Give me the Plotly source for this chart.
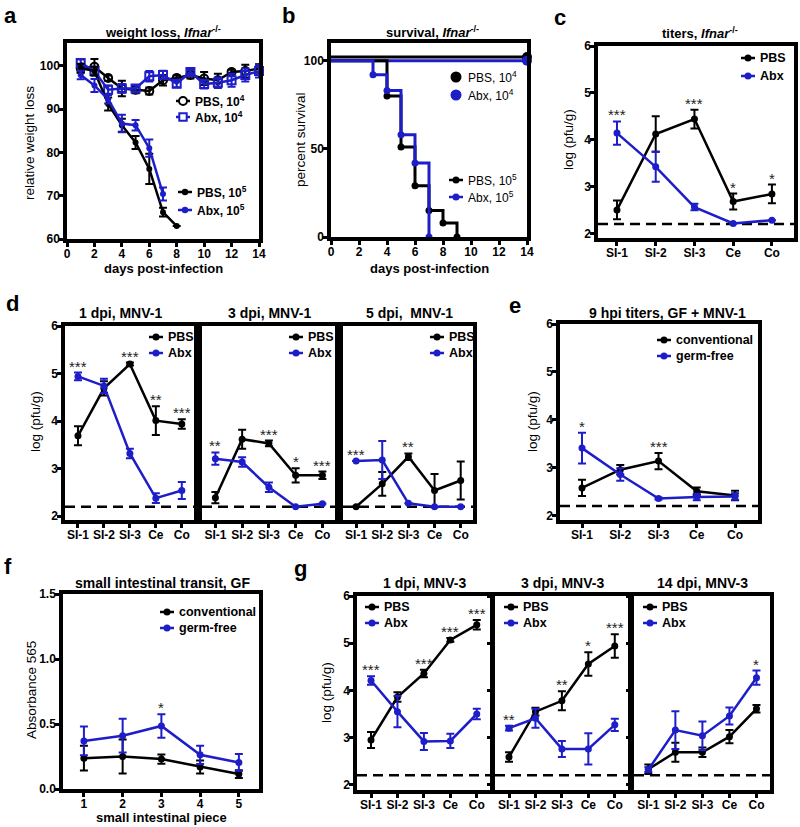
import plotly.graph_objects as go

# ---------------- data ----------------
# panel a: weight loss
a_days4 = [1, 2, 3, 4, 5, 6, 7, 8, 9, 10, 11, 12, 13, 14]
a_pbs4 = [99.4, 99.8, 97.2, 94.8, 94.5, 94.2, 96.7, 97.2, 97.9, 97.1, 96.7, 98.6, 98.8, 99.4]
a_pbs4_err = [1.0, 1.8, 0.6, 1.8, 0.8, 0.8, 1.2, 0.6, 0.8, 1.5, 1.5, 0.5, 1.5, 1.0]
a_abx4 = [100.7, 98.8, 94.5, 94.8, 94.8, 97.6, 97.9, 95.9, 98.6, 95.8, 96.1, 96.7, 97.9, 98.8]
a_abx4_err = [0.8, 1.0, 1.0, 1.0, 0.8, 1.2, 1.0, 0.8, 0.6, 1.0, 1.2, 1.5, 1.5, 1.5]
a_days_pbs5 = [1, 2, 3, 4, 5, 6, 7, 8]
a_pbs5 = [99.5, 98.8, 91.2, 86.3, 82.3, 76.2, 66.2, 63.0]
a_pbs5_err = [1.0, 1.0, 1.5, 1.5, 1.5, 3.5, 1.0, 0.0]
a_days_abx5 = [1, 2, 3, 4, 5, 6, 7]
a_abx5 = [97.9, 95.5, 92.3, 86.7, 86.3, 81.0, 70.4]
a_abx5_err = [1.0, 1.5, 1.0, 2.0, 1.2, 2.0, 1.5]

# panel b: survival
b_pbs4_t = [0, 14]
b_pbs4 = [102, 102]
b_abx4_t = [0, 14]
b_abx4 = [100, 100]
b_pbs5_t = [0, 4, 5, 6, 7, 8, 9]
b_pbs5 = [100, 80, 51, 29, 15, 8, 0]
b_abx5_t = [0, 3, 4, 5, 6, 7]
b_abx5 = [100, 92, 83, 58, 42, 0]

sites = ["SI-1", "SI-2", "SI-3", "Ce", "Co"]

# panel c: titers Ifnar-/-
c_pbs = [2.50, 4.12, 4.44, 2.68, 2.84]
c_pbs_err = [0.2, 0.38, 0.2, 0.17, 0.2]
c_abx = [4.14, 3.42, 2.56, 2.21, 2.28]
c_abx_err = [0.25, 0.32, 0.07, 0.0, 0.0]
c_stars = ["***", "", "***", "*", "*"]

# panel d: MNV-1
d1_pbs = [3.69, 4.69, 5.20, 4.01, 3.94]
d1_pbs_err = [0.2, 0.15, 0.03, 0.3, 0.1]
d1_abx = [4.94, 4.74, 3.32, 2.38, 2.54]
d1_abx_err = [0.08, 0.15, 0.1, 0.1, 0.18]
d1_stars = ["***", "", "***", "**", "***"]

d2_pbs = [2.39, 3.62, 3.53, 2.86, 2.86]
d2_pbs_err = [0.12, 0.2, 0.06, 0.15, 0.08]
d2_abx = [3.21, 3.14, 2.61, 2.20, 2.26]
d2_abx_err = [0.13, 0.1, 0.1, 0.0, 0.0]
d2_stars = ["**", "", "***", "*", "***"]

d3_pbs = [2.20, 2.68, 3.25, 2.54, 2.75]
d3_pbs_err = [0.0, 0.25, 0.07, 0.35, 0.4]
d3_abx = [3.16, 3.18, 2.27, 2.20, 2.20]
d3_abx_err = [0.0, 0.4, 0.0, 0.0, 0.0]
d3_stars = ["***", "", "**", "", ""]

# panel e: 9 hpi GF
e_conv = [2.58, 2.96, 3.14, 2.51, 2.42]
e_conv_err = [0.17, 0.1, 0.17, 0.08, 0.1]
e_gf = [3.41, 2.86, 2.36, 2.39, 2.40]
e_gf_err = [0.32, 0.13, 0.02, 0.07, 0.07]
e_stars = ["*", "", "***", "", ""]

# panel f: transit
f_piece = [1, 2, 3, 4, 5]
f_conv = [0.237, 0.25, 0.23, 0.17, 0.115]
f_conv_err = [0.095, 0.13, 0.035, 0.05, 0.03]
f_gf = [0.37, 0.41, 0.485, 0.263, 0.204]
f_gf_err = [0.11, 0.13, 0.09, 0.07, 0.065]
f_stars = ["", "", "*", "", ""]

# panel g: MNV-3
g1_pbs = [2.95, 3.86, 4.36, 5.07, 5.39]
g1_pbs_err = [0.17, 0.1, 0.08, 0.04, 0.1]
g1_abx = [4.21, 3.55, 2.92, 2.93, 3.50]
g1_abx_err = [0.09, 0.33, 0.18, 0.15, 0.11]
g1_stars = ["***", "", "***", "***", "***"]

g2_pbs = [2.59, 3.55, 3.78, 4.56, 4.94]
g2_pbs_err = [0.1, 0.08, 0.2, 0.25, 0.25]
g2_abx = [3.20, 3.41, 2.76, 2.76, 3.27]
g2_abx_err = [0.05, 0.2, 0.17, 0.33, 0.13]
g2_stars = ["**", "", "**", "*", "***"]

g3_pbs = [2.33, 2.69, 2.69, 3.02, 3.61]
g3_pbs_err = [0.1, 0.2, 0.1, 0.14, 0.08]
g3_abx = [2.32, 3.16, 3.04, 3.46, 4.27]
g3_abx_err = [0.05, 0.4, 0.3, 0.18, 0.15]
g3_stars = ["", "", "", "", "*"]

detection_limit = 2.2

# ---------------- styling / layout ----------------
W, H = 800, 827
BLACK = "#000000"
BLUE = "#1e1ec8"
STARC = "#222222"
FONT = "Liberation Sans"
TICKFONT = dict(family=FONT, size=12, color=BLACK, weight="bold")

# panel boxes in pixels: left, right, top, bottom
boxes = {
    1: (67, 259, 43, 239),
    2: (331, 527, 43, 237),
    3: (598, 794, 46, 238),
    4: (65, 194, 326, 520),
    5: (202, 335, 326, 520),
    6: (343, 473, 326, 520),
    7: (560, 758, 324, 520),
    8: (63, 259, 594, 789),
    9: (357, 490, 596, 790),
    10: (495, 628, 596, 790),
    11: (634, 770, 596, 790),
}

layout = dict(
    width=W, height=H, margin=dict(l=0, r=0, t=0, b=0),
    paper_bgcolor="white", plot_bgcolor="white", template="none",
    font=dict(family=FONT, color=BLACK), showlegend=False,
)


def axis_common():
    return dict(showline=True, mirror=True, linewidth=3.5, linecolor=BLACK,
                ticks="outside", ticklen=4, tickwidth=2.5, tickcolor=BLACK,
                ticklabelstandoff=-3,
                showgrid=False, zeroline=False, tickfont=TICKFONT, fixedrange=True)


def xname(k):
    return "xaxis" if k == 1 else f"xaxis{k}"


def yname(k):
    return "yaxis" if k == 1 else f"yaxis{k}"


for k, (l, r, t, b) in boxes.items():
    xa = axis_common()
    xa.update(domain=[l / W, r / W], anchor=f"y{k}" if k > 1 else "y")
    ya = axis_common()
    ya.update(domain=[1 - b / H, 1 - t / H], anchor=f"x{k}" if k > 1 else "x")
    layout[xname(k)] = xa
    layout[yname(k)] = ya

# axis ranges / ticks
layout["xaxis"].update(range=[0, 14], tickvals=list(range(0, 15, 2)))
layout["yaxis"].update(range=[60, 105.3], tickvals=[60, 70, 80, 90, 100])
layout["xaxis2"].update(range=[0, 14], tickvals=list(range(0, 15, 2)))
layout["yaxis2"].update(range=[0, 110], tickvals=[0, 50, 100])
layout["xaxis3"].update(type="category", range=[-0.49, 4.57])
layout["yaxis3"].update(range=[1.9, 6], tickvals=[2, 3, 4, 5, 6])
for k in (4, 5, 6):
    layout[xname(k)].update(type="category", range=[-0.5, 4.47])
    layout[yname(k)].update(range=[1.92, 6], tickvals=[2, 3, 4, 5, 6], showticklabels=(k == 4))
layout["xaxis7"].update(type="category", range=[-0.575, 4.6])
layout["yaxis7"].update(range=[1.91, 6], tickvals=[2, 3, 4, 5, 6])
layout["xaxis8"].update(range=[0.46, 5.52], tickvals=f_piece)
layout["yaxis8"].update(range=[0, 1.5], tickvals=[0, 0.5, 1.0, 1.5], ticktext=["0.0", "0.5", "1.0", "1.5"])
for k in (9, 10, 11):
    layout[xname(k)].update(type="category", range=[-0.53, 4.5])
    layout[yname(k)].update(range=[1.89, 6], tickvals=[2, 3, 4, 5, 6], showticklabels=(k == 9))

fig = go.Figure()
annotations = []
shapes = []


def legend_entry(text_x, cy, label, color, symbol="circle", r=3.5, line=True,
                 bold=True, fsize=12.5):
    """Manual GraphPad-style legend entry: short line, marker, text."""
    yc = 1 - cy / H
    mx = (text_x - 11) / W
    if line:
        shapes.append(dict(type="line", xref="paper", yref="paper",
                           x0=(text_x - 18) / W, x1=(text_x - 4) / W, y0=yc, y1=yc,
                           line=dict(color=color, width=2.5)))
    openm = symbol.endswith("-open")
    stype = "rect" if symbol.startswith("square") else "circle"
    shapes.append(dict(type=stype, xref="paper", yref="paper",
                       xsizemode="pixel", ysizemode="pixel", xanchor=mx, yanchor=yc,
                       x0=-r, x1=r, y0=-r, y1=r,
                       fillcolor="white" if openm else color,
                       line=dict(color=color, width=2 if openm else 0)))
    annotations.append(dict(x=text_x / W, y=yc, xref="paper", yref="paper",
                            text=f"<b>{label}</b>" if bold else label, showarrow=False,
                            xanchor="left", yanchor="middle", borderpad=0,
                            font=dict(family=FONT, size=fsize, color=BLACK)))


def axref(k):
    return ("x", "y") if k == 1 else (f"x{k}", f"y{k}")


def add_series(k, x, y, err, color, name, symbol="circle", size=7, lw=2.5, mline=0):
    xr, yr = axref(k)
    fig.add_trace(go.Scatter(
        x=x, y=y, mode="lines+markers", name=name,
        line=dict(color=color, width=lw),
        marker=dict(color=color, size=size, symbol=symbol, line=dict(color=color, width=mline)),
        error_y=dict(type="data", array=err, color=color, thickness=2, width=4, visible=True),
        xaxis=xr, yaxis=yr, cliponaxis=False))


def add_stars(k, x, stars, series):
    xr, yr = axref(k)
    for i, s in enumerate(stars):
        if not s:
            continue
        top = max(v[i] + e[i] for v, e in series)
        annotations.append(dict(x=x[i], y=top, xref=xr, yref=yr, text=s, showarrow=False,
                                yanchor="bottom", xanchor="center", yshift=-4,
                                font=dict(family=FONT, size=15, color=STARC)))


def add_limit(k):
    xr, yr = axref(k)
    shapes.append(dict(type="line", xref=f"{xr} domain", yref=yr, x0=0, x1=1,
                       y0=detection_limit, y1=detection_limit, layer="below",
                       line=dict(color=BLACK, width=2.5, dash="10px,6px")))


# ----- panel a -----
add_series(1, a_days4, a_pbs4, a_pbs4_err, BLACK, "PBS, 10<sup>4</sup>",
           symbol="circle-open", size=8, mline=2)
add_series(1, a_days4, a_abx4, a_abx4_err, BLUE, "Abx, 10<sup>4</sup>",
           symbol="square-open", size=8, mline=2)
add_series(1, a_days_pbs5, a_pbs5, a_pbs5_err, BLACK, "PBS, 10<sup>5</sup>", size=6)
add_series(1, a_days_abx5, a_abx5, a_abx5_err, BLUE, "Abx, 10<sup>5</sup>", size=6)
legend_entry(194, 101, "PBS, 10<sup>4</sup>", BLACK, symbol="circle-open", r=4, fsize=12)
legend_entry(194, 117, "Abx, 10<sup>4</sup>", BLUE, symbol="square-open", r=3.7, fsize=12)
legend_entry(196, 192, "PBS, 10<sup>5</sup>", BLACK, r=3.2, fsize=12)
legend_entry(196, 210, "Abx, 10<sup>5</sup>", BLUE, r=3.2, fsize=12)

# ----- panel b -----
for t, v, col, nm, cy, big in [
    (b_pbs4_t, b_pbs4, BLACK, "PBS, 10<sup>4</sup>", 77, True),
    (b_abx4_t, b_abx4, BLUE, "Abx, 10<sup>4</sup>", 95, True),
    (b_pbs5_t, b_pbs5, BLACK, "PBS, 10<sup>5</sup>", 180, False),
    (b_abx5_t, b_abx5, BLUE, "Abx, 10<sup>5</sup>", 197, False),
]:
    fig.add_trace(go.Scatter(x=t, y=v, mode="lines", line=dict(color=col, width=3, shape="hv"),
                             name=nm, xaxis="x2", yaxis="y2", cliponaxis=False))
    fig.add_trace(go.Scatter(x=t[1:], y=v[1:], mode="markers",
                             marker=dict(color=col, size=10 if big else 7),
                             name=nm, xaxis="x2", yaxis="y2", cliponaxis=False))
    legend_entry(467, cy, nm, col, r=5.5 if big else 3.5, line=not big, bold=False, fsize=12)

# ----- panel c -----
add_series(3, sites, c_pbs, c_pbs_err, BLACK, "PBS")
add_series(3, sites, c_abx, c_abx_err, BLUE, "Abx")
legend_entry(759, 58, "PBS", BLACK)
legend_entry(759, 76, "Abx", BLUE)
add_stars(3, sites, c_stars, [(c_pbs, c_pbs_err), (c_abx, c_abx_err)])
add_limit(3)

# ----- panel d -----
d_sets = [(4, d1_pbs, d1_pbs_err, d1_abx, d1_abx_err, d1_stars, 167),
          (5, d2_pbs, d2_pbs_err, d2_abx, d2_abx_err, d2_stars, 307),
          (6, d3_pbs, d3_pbs_err, d3_abx, d3_abx_err, d3_stars, 448)]
for k, p, pe, ab, abe, st, tx in d_sets:
    add_series(k, sites, p, pe, BLACK, "PBS")
    add_series(k, sites, ab, abe, BLUE, "Abx")
    legend_entry(tx, 337, "PBS", BLACK)
    legend_entry(tx, 353, "Abx", BLUE)
    add_stars(k, sites, st, [(p, pe), (ab, abe)])
    add_limit(k)

# ----- panel e -----
add_series(7, sites, e_conv, e_conv_err, BLACK, "conventional")
add_series(7, sites, e_gf, e_gf_err, BLUE, "germ-free")
legend_entry(675, 340, "conventional", BLACK)
legend_entry(675, 356, "germ-free", BLUE)
add_stars(7, sites, e_stars, [(e_conv, e_conv_err), (e_gf, e_gf_err)])
add_limit(7)

# ----- panel f -----
add_series(8, f_piece, f_conv, f_conv_err, BLACK, "conventional")
add_series(8, f_piece, f_gf, f_gf_err, BLUE, "germ-free")
legend_entry(178, 612, "conventional", BLACK)
legend_entry(178, 628, "germ-free", BLUE)
add_stars(8, f_piece, f_stars, [(f_conv, f_conv_err), (f_gf, f_gf_err)])

# ----- panel g -----
g_sets = [(9, g1_pbs, g1_pbs_err, g1_abx, g1_abx_err, g1_stars, 383),
          (10, g2_pbs, g2_pbs_err, g2_abx, g2_abx_err, g2_stars, 522),
          (11, g3_pbs, g3_pbs_err, g3_abx, g3_abx_err, g3_stars, 661)]
for k, p, pe, ab, abe, st, tx in g_sets:
    add_series(k, sites, p, pe, BLACK, "PBS")
    add_series(k, sites, ab, abe, BLUE, "Abx")
    legend_entry(tx, 607, "PBS", BLACK)
    legend_entry(tx, 623, "Abx", BLUE)
    add_stars(k, sites, st, [(p, pe), (ab, abe)])
    add_limit(k)


# ----- text: titles, panel letters, axis titles -----
def ptext(text, x, y, size=13.5, angle=0, bold=False):
    annotations.append(dict(x=x / W, y=1 - y / H, xref="paper", yref="paper",
                            text=f"<b>{text}</b>" if bold else text, showarrow=False,
                            xanchor="center", yanchor="middle", textangle=angle,
                            font=dict(family=FONT, size=size, color=BLACK)))


titles = [
    ("weight loss, <i>Ifnar</i><sup>-/-</sup>", 163, 32, 13),
    ("survival, <i>Ifnar</i><sup>-/-</sup>", 432, 32, 13),
    ("titers, <i>Ifnar</i><sup>-/-</sup>", 700, 33, 13),
    ("1 dpi, MNV-1", 120, 313, 14),
    ("3 dpi, MNV-1", 269, 313, 14),
    ("5 dpi,  MNV-1", 409, 313, 14),
    ("9 hpi titers, GF + MNV-1", 667, 313, 14),
    ("small intestinal transit, GF", 162, 583, 14),
    ("1 dpi, MNV-3", 424, 583, 14),
    ("3 dpi, MNV-3", 562, 583, 14),
    ("14 dpi, MNV-3", 702, 583, 14),
]
for t, x, y, s in titles:
    ptext(t, x, y, size=s, bold=True)

letters = [("a", 10, 15), ("b", 288, 15), ("c", 560, 17), ("d", 12, 303),
           ("e", 515, 306), ("f", 8, 566), ("g", 300, 568)]
for t, x, y in letters:
    ptext(t, x, y, size=22, bold=True)

ptext("relative weight loss", 29, 143, angle=-90)
ptext("days post-infection", 163, 268, size=13, bold=True)
ptext("percent survival", 301, 140, angle=-90)
ptext("days post-infection", 429, 268, size=13, bold=True)
ptext("log (pfu/g)", 569, 140, angle=-90)
ptext("log (pfu/g)", 35, 422, angle=-90)
ptext("log (pfu/g)", 532, 422, angle=-90)
ptext("Absorbance 565", 31, 690, angle=-90)
ptext("small intestinal piece", 161, 817, size=13, bold=True)
ptext("log (pfu/g)", 326, 693, angle=-90)

layout["annotations"] = annotations
layout["shapes"] = shapes
fig.update_layout(**layout)
fig.write_html("out.html", config={"displayModeBar": False},
               post_script="document.body.style.margin='0px';document.body.style.overflow='hidden';")
